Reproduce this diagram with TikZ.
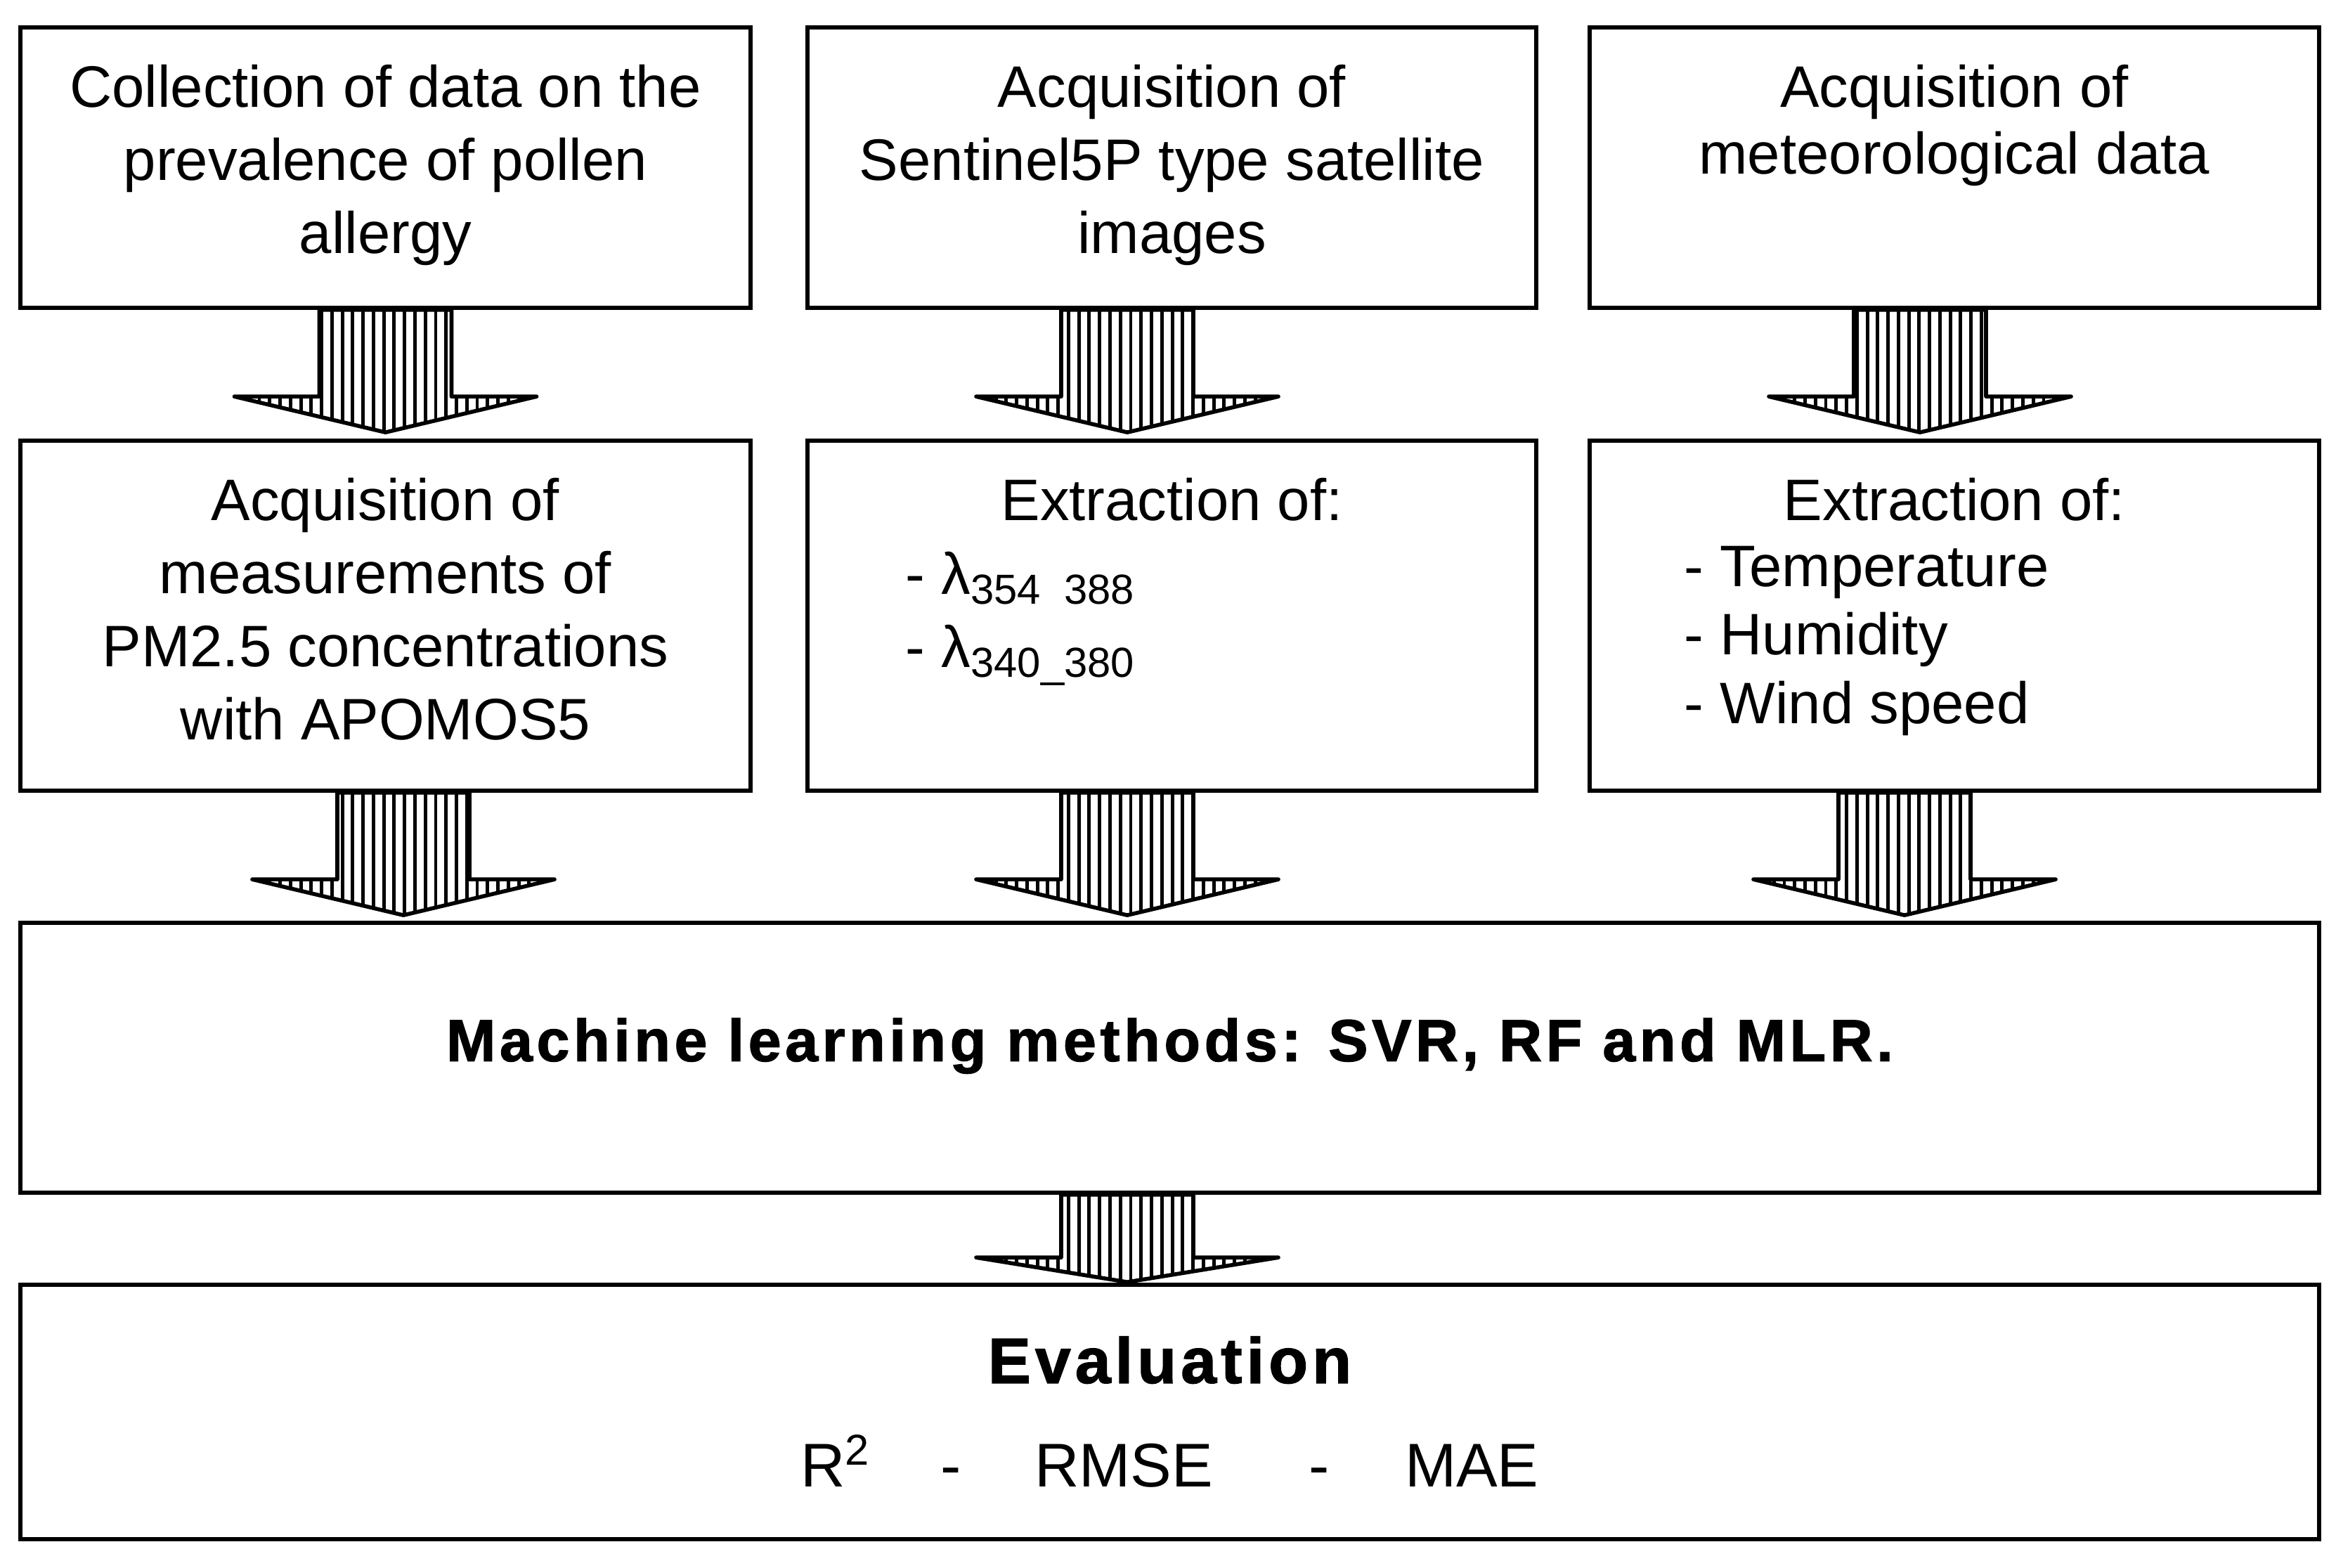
\documentclass[tikz,border=0pt]{standalone}
\usepackage{fontspec}
\setmainfont{Liberation Sans}
\newfontfamily\headfont[LetterSpace=6.7, BoldFeatures={FakeBold=1.5}]{Liberation Sans}
\usetikzlibrary{positioning,calc,patterns.meta}

% hatched block arrow: start node, tip coordinate, head length
\newcommand{\hatcharrow}[3]{%
  \filldraw[harrow] ($(#2|-#1.south)+(-0.94,0)$) -- ($(#2)+(-0.94,#3)$) -- ($(#2)+(-2.15,#3)$)
    -- (#2) -- ($(#2)+(2.15,#3)$) -- ($(#2)+(0.94,#3)$) -- ($(#2|-#1.south)+(0.94,0)$) -- cycle;}
\newcommand{\lsub}[1]{\raisebox{-4pt}{\fontsize{17}{17}\selectfont #1}}

\begin{document}
\begin{tikzpicture}[
  box/.style={draw, line width=1.6pt, inner sep=0pt},
  txt/.style={inner sep=0pt, align=center, font=\fontsize{23.7}{29.6}\selectfont},
  harrow/.style={line width=1.6pt, line join=round, pattern={Lines[angle=90,distance=4.2pt,line width=1.4pt]}}
]
\useasboundingbox (0,0) rectangle (33.24,22.30);

% first row
\node[box, minimum width=10.39cm, minimum height=3.99cm] (b1) at (5.485,19.915) {};
\node[box, minimum width=10.37cm, minimum height=3.99cm] (b2) at (16.675,19.915) {};
\node[box, minimum width=10.38cm, minimum height=3.99cm] (b3) at (27.81,19.915) {};
\node[txt, below=0.55cm of b1.north] (t1) {Collection of data on the\\prevalence of pollen\\allergy};
\node[txt, below=0.55cm of b2.north] (t2) {Acquisition of\\Sentinel5P type satellite\\images};
\node[txt, below=0.55cm of b3.north, font=\fontsize{23.7}{27.2}\selectfont] (t3) {Acquisition of\\meteorological data};

% second row
\node[box, minimum width=10.39cm, minimum height=4.98cm] (c1) at (5.485,13.54) {};
\node[box, minimum width=10.37cm, minimum height=4.98cm] (c2) at (16.675,13.54) {};
\node[box, minimum width=10.38cm, minimum height=4.98cm] (c3) at (27.81,13.54) {};
\node[txt, below=0.55cm of c1.north] (u1) {Acquisition of\\measurements of\\PM2.5 concentrations\\with APOMOS5};
\node[txt, below=0.55cm of c2.north] (u2) {Extraction of:};
\node[txt, align=left, anchor=north west] (l2) at ($(c2.north west)+(1.42,-1.60)$)
  {- λ\lsub{354\phantom{\_}388}\\- λ\lsub{340\_380}};
\node[txt, below=0.55cm of c3.north] (u3) {Extraction of:};
\node[txt, align=left, anchor=north west, font=\fontsize{23.7}{27.8}\selectfont] (l3) at ($(c3.north west)+(1.37,-1.52)$)
  {- Temperature\\- Humidity\\- Wind speed};

% methods and evaluation
\node[box, minimum width=32.71cm, minimum height=3.84cm] (ml) at (16.645,7.25) {};
\node[anchor=base, inner sep=0pt, font=\headfont\bfseries\fontsize{24}{28}\selectfont] (mlt) at ($(ml.south)+(0,1.90)$)
  {Machine learning methods: SVR, RF and MLR.};
\node[box, minimum width=32.71cm, minimum height=3.62cm] (ev) at (16.645,2.21) {};
\node[anchor=base, inner sep=0pt, font=\headfont\bfseries\fontsize{26}{30}\selectfont] (evt) at ($(ev.south)+(0,2.25)$) {Evaluation};
\node[anchor=base, inner sep=0pt, font=\fontsize{25}{30}\selectfont] (met) at ($(ev.south)+(0,0.77)$)
  {R\textsuperscript{2}\hspace{1.0cm}-\hspace{1.04cm}RMSE\hspace{1.37cm}-\hspace{1.07cm}MAE};

% arrows
\coordinate (a1) at ($(c1.north)+(0,0.09)$);
\coordinate (a2) at ($(c2.north)+(-0.635,0.09)$);
\coordinate (a3) at ($(c3.north)+(-0.49,0.09)$);
\coordinate (m1) at ($(ml.north -| c1.north)+(0.255,0.08)$);
\coordinate (m2) at ($(ml.north -| c2.north)+(-0.635,0.08)$);
\coordinate (m3) at ($(ml.north -| c3.north)+(-0.71,0.08)$);
\coordinate (e1) at ($(ev.north -| c2.north)+(-0.635,0.01)$);
\hatcharrow{b1}{a1}{0.51}
\hatcharrow{b2}{a2}{0.51}
\hatcharrow{b3}{a3}{0.51}
\hatcharrow{c1}{m1}{0.51}
\hatcharrow{c2}{m2}{0.51}
\hatcharrow{c3}{m3}{0.51}
\hatcharrow{ml}{e1}{0.35}
\end{tikzpicture}
\end{document}
